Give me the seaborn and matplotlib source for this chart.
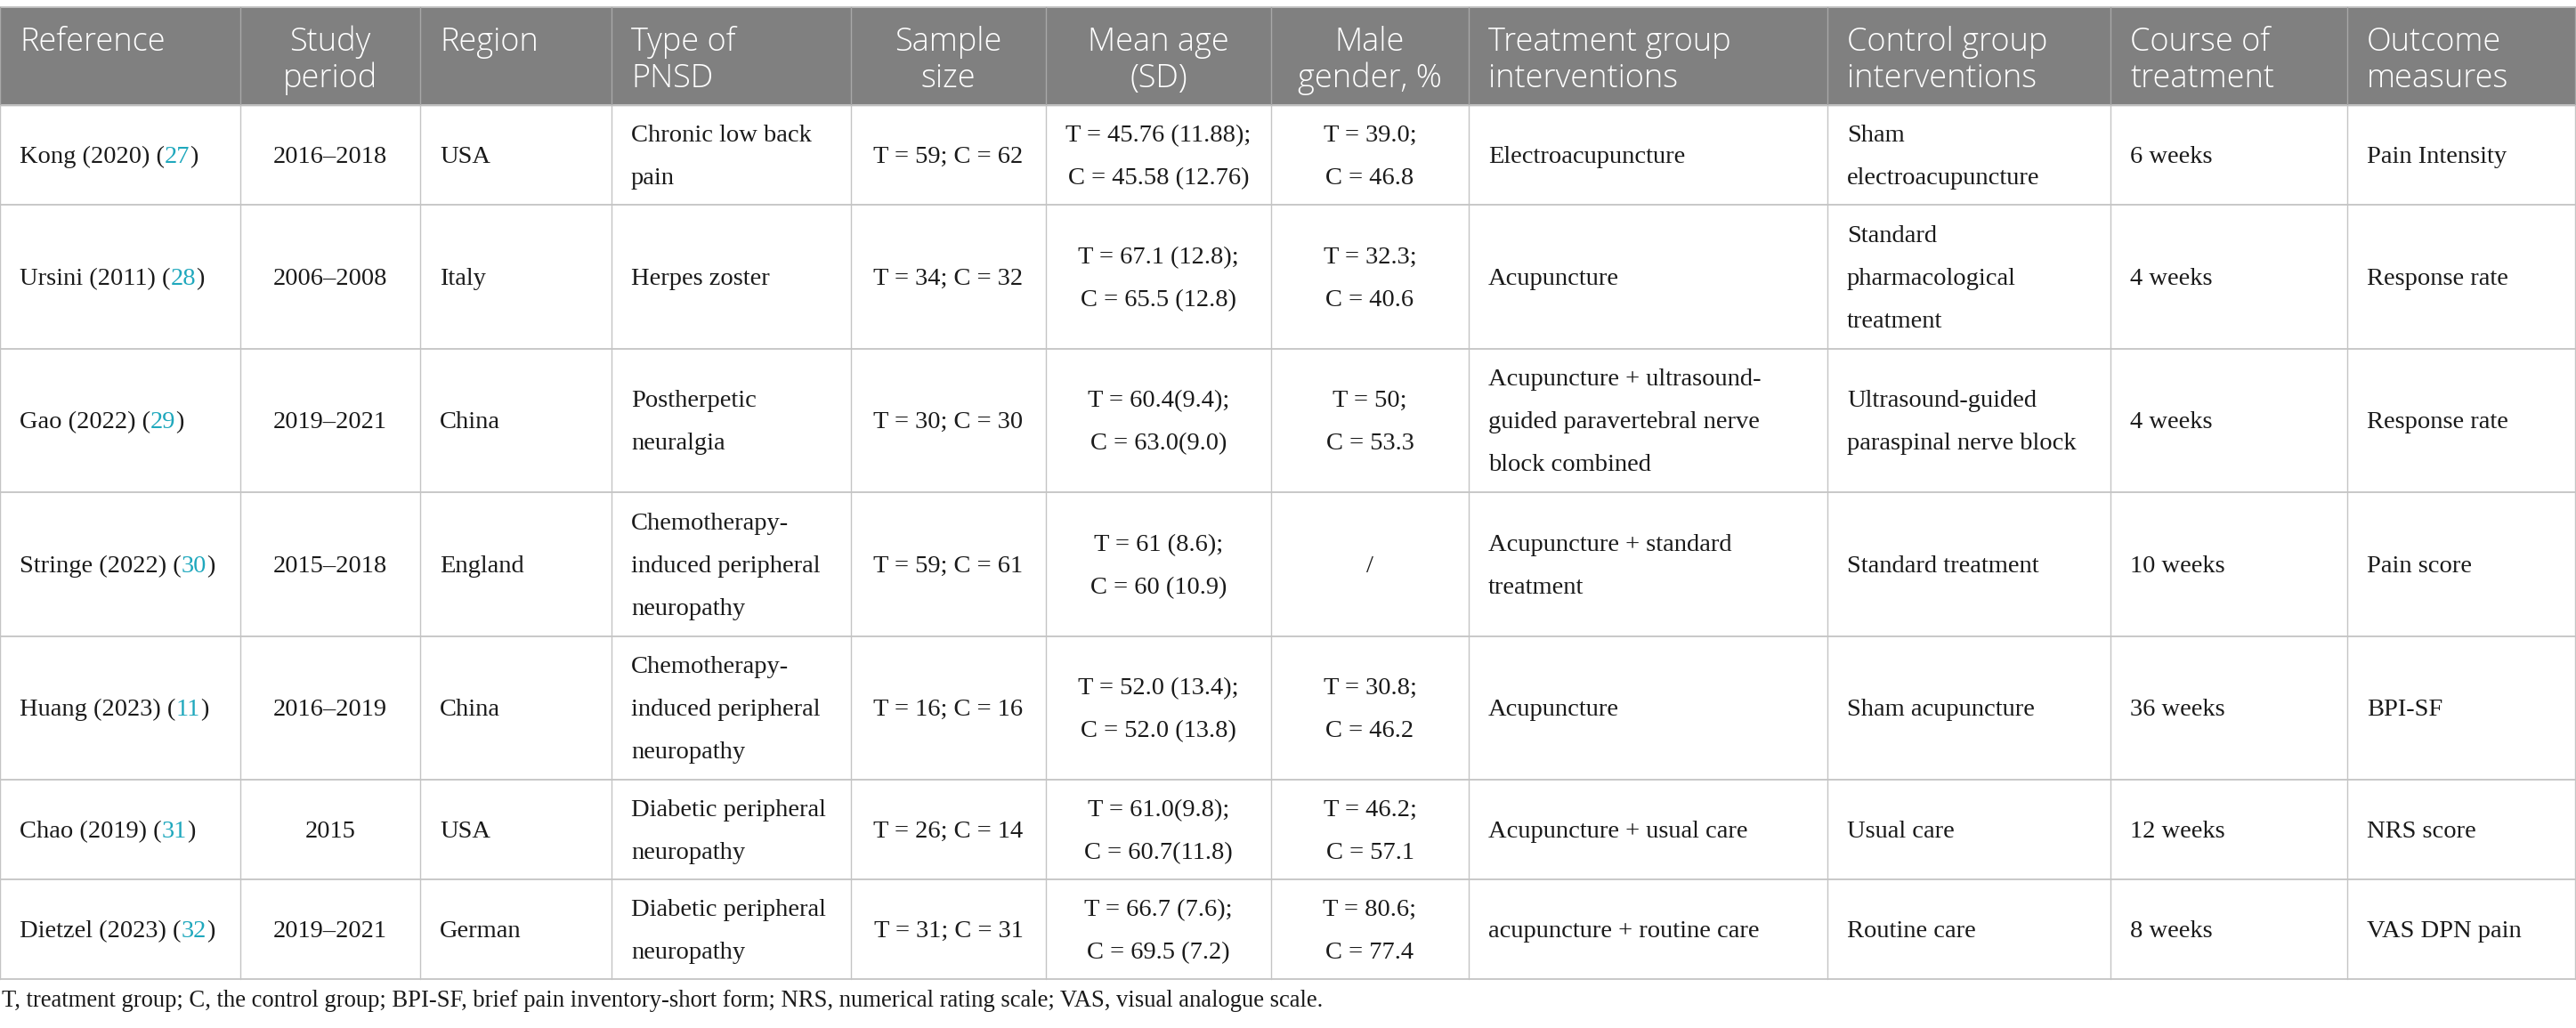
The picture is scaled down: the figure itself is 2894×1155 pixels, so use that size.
import matplotlib
matplotlib.use("Agg")
import matplotlib.pyplot as plt
import seaborn as sns

# ---------------- data ----------------
headers = ["Reference", "Study\nperiod", "Region", "Type of\nPNSD", "Sample\nsize",
           "Mean age\n(SD)", "Male\ngender, %", "Treatment group\ninterventions",
           "Control group\ninterventions", "Course of\ntreatment", "Outcome\nmeasures"]
ref_names = ["Kong (2020)", "Ursini (2011)", "Gao (2022)", "Stringe (2022)",
             "Huang (2023)", "Chao (2019)", "Dietzel (2023)"]
ref_numbers = ["27", "28", "29", "30", "11", "31", "32"]
study_periods = ["2016–2018", "2006–2008", "2019–2021", "2015–2018", "2016–2019", "2015", "2019–2021"]
regions = ["USA", "Italy", "China", "England", "China", "USA", "German"]
pnsd_types = ["Chronic low back\npain", "Herpes zoster", "Postherpetic\nneuralgia",
              "Chemotherapy-\ninduced peripheral\nneuropathy",
              "Chemotherapy-\ninduced peripheral\nneuropathy",
              "Diabetic peripheral\nneuropathy", "Diabetic peripheral\nneuropathy"]
sample_sizes = ["T = 59; C = 62", "T = 34; C = 32", "T = 30; C = 30", "T = 59; C = 61",
                "T = 16; C = 16", "T = 26; C = 14", "T = 31; C = 31"]
mean_ages = ["T = 45.76 (11.88);\nC = 45.58 (12.76)", "T = 67.1 (12.8);\nC = 65.5 (12.8)",
             "T = 60.4(9.4);\nC = 63.0(9.0)", "T = 61 (8.6);\nC = 60 (10.9)",
             "T = 52.0 (13.4);\nC = 52.0 (13.8)", "T = 61.0(9.8);\nC = 60.7(11.8)",
             "T = 66.7 (7.6);\nC = 69.5 (7.2)"]
male_pct = ["T = 39.0;\nC = 46.8", "T = 32.3;\nC = 40.6", "T = 50;\nC = 53.3", "/",
            "T = 30.8;\nC = 46.2", "T = 46.2;\nC = 57.1", "T = 80.6;\nC = 77.4"]
treatments = ["Electroacupuncture", "Acupuncture",
              "Acupuncture + ultrasound-\nguided paravertebral nerve\nblock combined",
              "Acupuncture + standard\ntreatment", "Acupuncture", "Acupuncture + usual care",
              "acupuncture + routine care"]
controls = ["Sham\nelectroacupuncture", "Standard\npharmacological\ntreatment",
            "Ultrasound-guided\nparaspinal nerve block", "Standard treatment",
            "Sham acupuncture", "Usual care", "Routine care"]
courses = ["6 weeks", "4 weeks", "4 weeks", "10 weeks", "36 weeks", "12 weeks", "8 weeks"]
outcomes = ["Pain Intensity", "Response rate", "Response rate", "Pain score", "BPI-SF",
            "NRS score", "VAS DPN pain"]
footnote = ("T, treatment group; C, the control group; BPI-SF, brief pain inventory-short form; "
            "NRS, numerical rating scale; VAS, visual analogue scale.")

# ---------------- layout / style ----------------
W, H = 2894, 1155
col_edges = [0, 270, 472, 687, 956, 1175, 1428, 1650, 2053, 2371, 2637, 2893]
centered = [False, True, False, False, True, True, True, False, False, False, False]
pad = 22
top, header_bottom = 8, 118
header_bg = "#808080"
grid_color = "#c4c4c4"
link_color = "#1fa8bd"
text_color = "#1a1a1a"
body_font = ["Liberation Serif", "DejaVu Serif"]
head_font = ["Open Sans", "DejaVu Sans"]
body_size = 20.5
head_size = 26
line_gap = 48

sns.set_theme(style="white")
plt.rcParams["font.family"] = body_font

fig = plt.figure(figsize=(W / 100, H / 100), dpi=100)
ax = fig.add_axes([0, 0, 1, 1])
ax.set_xlim(0, W)
ax.set_ylim(H, 0)
ax.axis("off")
renderer = fig.canvas.get_renderer()

columns = [None, study_periods, regions, pnsd_types, sample_sizes, mean_ages, male_pct,
           treatments, controls, courses, outcomes]
n_rows = len(ref_names)

# row heights from line counts
row_edges = [header_bottom]
for r in range(n_rows):
    nlines = max(c[r].count("\n") + 1 for c in columns[1:])
    row_edges.append(row_edges[-1] + (112 if nlines <= 2 else 161.5))

# header background
ax.add_patch(plt.Rectangle((0, top), W, header_bottom - top, color=header_bg, zorder=0))

# grid lines
for y in [top] + row_edges:
    ax.plot([0, W], [y, y], color=grid_color, lw=1.3, zorder=1)
for x in col_edges:
    ax.plot([x, x], [top, header_bottom], color="#a8a8a8", lw=1.0, zorder=1)
    ax.plot([x, x], [header_bottom, row_edges[-1]], color=grid_color, lw=1.0, zorder=1)

# header text
for j, h in enumerate(headers):
    x0, x1 = col_edges[j], col_edges[j + 1]
    for k, line in enumerate(h.split("\n")):
        y = 57 + k * 41
        if centered[j]:
            ax.text((x0 + x1) / 2, y, line, ha="center", va="baseline", color="white",
                    fontsize=head_size, family=head_font, fontweight=300)
        else:
            ax.text(x0 + pad, y, line, ha="left", va="baseline", color="white",
                    fontsize=head_size, family=head_font, fontweight=300)

def draw_cell(text, j, yc):
    x0, x1 = col_edges[j], col_edges[j + 1]
    lines = text.split("\n")
    n = len(lines)
    for k, line in enumerate(lines):
        y = yc + (k - (n - 1) / 2) * line_gap + 9
        if centered[j]:
            ax.text((x0 + x1) / 2, y, line, ha="center", va="baseline", color=text_color,
                    fontsize=body_size)
        else:
            ax.text(x0 + pad, y, line, ha="left", va="baseline", color=text_color,
                    fontsize=body_size)

for r in range(n_rows):
    yc = (row_edges[r] + row_edges[r + 1]) / 2
    # reference column with coloured citation number
    x = col_edges[0] + pad
    y = yc + 9
    for part, colr in [(ref_names[r] + " (", text_color), (ref_numbers[r], link_color), (")", text_color)]:
        t = ax.text(x, y, part, ha="left", va="baseline", color=colr, fontsize=body_size)
        bb = t.get_window_extent(renderer=renderer)
        x += bb.width
    for j in range(1, len(columns)):
        draw_cell(columns[j][r], j, yc)

ax.text(2, 1131, footnote, ha="left", va="baseline", color=text_color, fontsize=19.2)

fig.savefig("out.png", dpi=100, facecolor="white")
